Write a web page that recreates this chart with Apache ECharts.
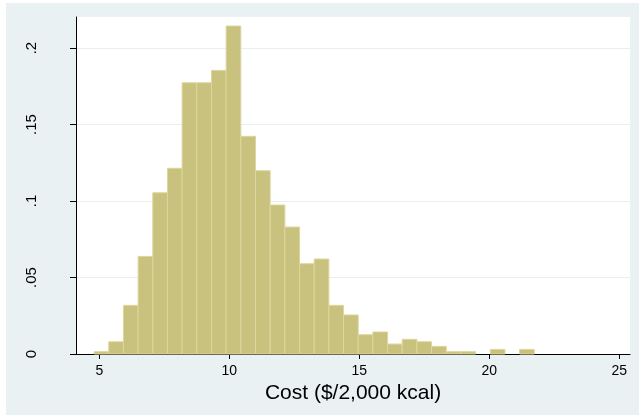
<!DOCTYPE html>
<html>
<head>
<meta charset="utf-8">
<script src="https://cdn.jsdelivr.net/npm/echarts@6/dist/echarts.min.js"></script>
<style>
  html, body { margin: 0; padding: 0; background: #ffffff; }
  #frame { position: absolute; left: 6px; top: 3px; width: 633px; height: 412px; background: #e9f1f3; }
  #chart { position: absolute; left: 0; top: 0; width: 639px; height: 415px; }
</style>
</head>
<body>
<div id="frame"></div>
<div id="chart"></div>
<script>
// Histogram of diet cost: 30 equal-width bins, density scale
const binStart = 4.80;
const binWidth = 0.5643;
const density = [
  0.0015, 0.0080, 0.0318, 0.0638, 0.1054, 0.1214, 0.1773, 0.1773, 0.1854, 0.2144,
  0.1423, 0.1198, 0.0974, 0.0830, 0.0590, 0.0621, 0.0318, 0.0255, 0.0126, 0.0144,
  0.0065, 0.0096, 0.0080, 0.0050, 0.0015, 0.0015, 0.0000, 0.0030, 0.0000, 0.0030
];
const xTicks = [5, 10, 15, 20, 25];
const yTicks = [0, 0.05, 0.1, 0.15, 0.2];
const yTickLabels = ['0', '.05', '.1', '.15', '.2'];
const xTitle = 'Cost ($/2,000 kcal)';

const bins = density.map((d, i) => [binStart + i * binWidth, binStart + (i + 1) * binWidth, d]);

const chart = echarts.init(document.getElementById('chart'), null, { renderer: 'canvas' });
const font = 'Liberation Sans, Arial, sans-serif';

chart.setOption({
  backgroundColor: 'transparent',
  animation: false,
  grid: { left: 76, top: 17, right: 9, bottom: 61, show: true, backgroundColor: '#ffffff', borderWidth: 0 },
  xAxis: {
    type: 'value',
    min: 4.104,
    max: 25.41,
    name: xTitle,
    nameLocation: 'middle',
    nameGap: 23,
    nameTextStyle: { fontFamily: font, fontSize: 21, color: '#000' },
    axisLine: { show: true, lineStyle: { color: '#000', width: 1 } },
    axisTick: { show: true, length: 5, customValues: xTicks, lineStyle: { color: '#000' } },
    axisLabel: { customValues: xTicks, margin: 10, fontFamily: font, fontSize: 14, color: '#000' },
    splitLine: { show: false }
  },
  yAxis: {
    type: 'value',
    min: 0,
    max: 0.2203,
    axisLine: { show: true, lineStyle: { color: '#000', width: 1 } },
    axisTick: { show: true, length: 6, customValues: yTicks, lineStyle: { color: '#000' } },
    axisLabel: {
      customValues: yTicks,
      rotate: 90,
      margin: 37,
      fontFamily: font,
      fontSize: 15,
      color: '#000',
      formatter: v => yTickLabels[yTicks.findIndex(t => Math.abs(t - v) < 1e-9)] ?? ''
    },
    splitLine: { show: true, lineStyle: { color: '#e6eff2', width: 1 } }
  },
  series: [{
    type: 'custom',
    data: bins,
    encode: { x: [0, 1], y: 2 },
    renderItem: (params, api) => {
      const h = api.value(2);
      if (h <= 0) return null;
      const p0 = api.coord([api.value(0), h]);
      const p1 = api.coord([api.value(1), 0]);
      return {
        type: 'rect',
        shape: { x: p0[0], y: p0[1], width: p1[0] - p0[0], height: p1[1] - p0[1] },
        style: { fill: '#c9c17e', stroke: '#ddd69c', lineWidth: 1 }
      };
    }
  }]
});
</script>
</body>
</html>
